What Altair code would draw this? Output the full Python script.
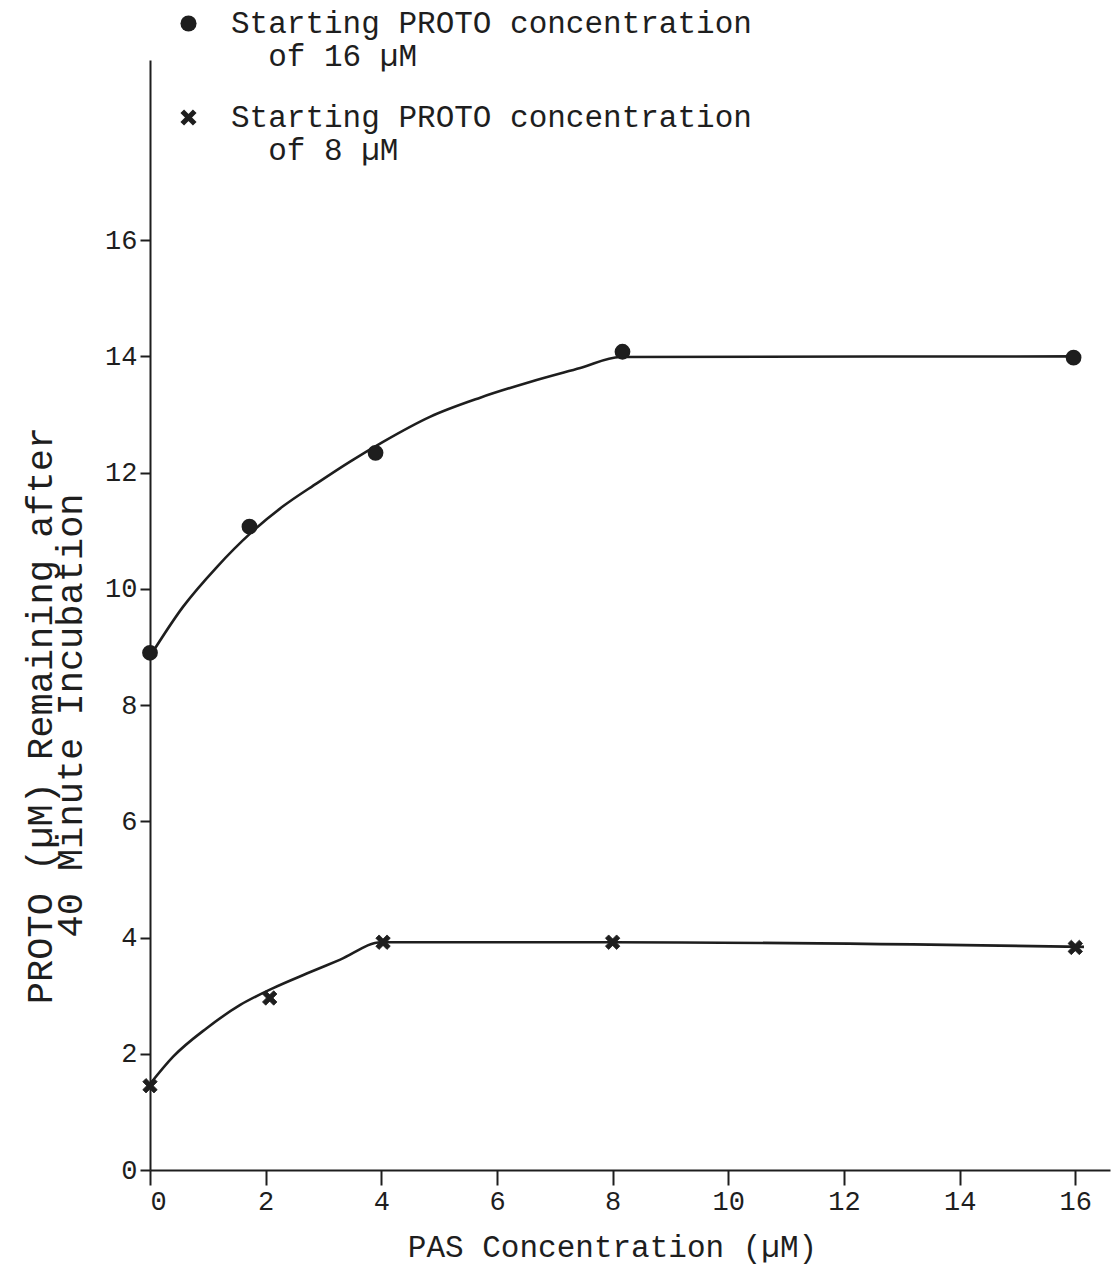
import altair as alt
import pandas as pd

# Measured points (PAS concentration µM, PROTO remaining µM)
circ_x = [0, 1.72, 3.9, 8.17, 15.97]
circ_y = [8.9, 11.07, 12.34, 14.08, 13.98]
cross_x = [0, 2.07, 4.03, 8.0, 16.0]
cross_y = [1.45, 2.96, 3.92, 3.92, 3.83]

# Hand-drawn curves
curve16_x = [0, 0.57, 1.16, 1.73, 2.30, 2.89, 3.46, 4.03, 4.84, 5.71, 6.57, 7.44, 8.13, 16.0]
curve16_y = [8.84, 9.69, 10.38, 10.95, 11.42, 11.82, 12.19, 12.53, 12.96, 13.29, 13.56, 13.80, 13.99, 14.0]
curve8_x = [0, 0.40, 0.98, 1.56, 2.13, 2.71, 3.29, 4.0, 8.0, 16.15]
curve8_y = [1.48, 1.95, 2.44, 2.84, 3.13, 3.38, 3.62, 3.92, 3.92, 3.84]

series_keys = ["16", "8"]
legend_line1 = "Starting PROTO concentration"
legend_line2 = {"16": "\u200b\u00a0\u00a0of 16 µM", "8": "\u200b\u00a0\u00a0of 8 µM"}

x_ticks = [0, 2, 4, 6, 8, 10, 12, 14, 16]
y_ticks = [0, 2, 4, 6, 8, 10, 12, 14, 16]
x_title = "PAS Concentration (µM)"
y_title = ["PROTO (µM) Remaining after", "40 Minute Incubation"]

FONT = "Liberation Mono"
INK = "#1e1e1e"

circ_df = pd.DataFrame({"x": circ_x, "y": circ_y, "series": ["16"] * len(circ_x)})
cross_df = pd.DataFrame({"x": cross_x, "y": cross_y, "series": ["8"] * len(cross_x)})
curves = pd.DataFrame({
    "x": curve16_x + curve8_x,
    "y": curve16_y + curve8_y,
    "series": ["16"] * len(curve16_x) + ["8"] * len(curve8_x),
})

xs = alt.Scale(domain=[0, 16.6], nice=False, zero=False)
ys = alt.Scale(domain=[0, 19.1], nice=False, zero=False)

xax = alt.Axis(values=x_ticks, format="d", title=x_title, grid=False, domainColor=INK, domainWidth=2,
               tickColor=INK, tickWidth=2, tickSize=15, labelPadding=3,
               labelFont=FONT, labelFontSize=27, labelColor=INK, labelBaseline="top",
               titleFont=FONT, titleFontSize=31, titleFontWeight="normal", titleColor=INK,
               titleX=462, titleY=86, titleBaseline="alphabetic", titleAnchor="middle")
yax = alt.Axis(values=y_ticks, format="d", title=y_title, grid=False, domainColor=INK, domainWidth=2,
               tickColor=INK, tickWidth=2, tickSize=10, labelPadding=3,
               labelFont=FONT, labelFontSize=27, labelColor=INK, labelBaseline="middle",
               titleFont=FONT, titleFontSize=37, titleFontWeight="normal", titleColor=INK,
               titleAngle=-90, titleX=-110, titleY=655, titleBaseline="middle",
               titleAlign="center", titleLineHeight=30)

label_expr = (
    "datum.label == '16' ? ['" + legend_line1 + "', '" + legend_line2["16"] + "']"
    " : ['" + legend_line1 + "', '" + legend_line2["8"] + "']"
)

# filled X-shaped glyph (two diagonal bands)
path_x = "M-1,-0.55L-0.55,-1L1,0.55L0.55,1ZM0.55,-1L1,-0.55L-0.55,1L-1,0.55Z"
shape_scale = alt.Scale(domain=series_keys, range=["circle", path_x])
legend = alt.Legend(orient="none", legendX=23, legendY=-52, title=None,
                    labelFont=FONT, labelFontSize=31, labelColor=INK,
                    labelLimit=1000, labelOffset=27, labelExpr=label_expr,
                    symbolSize=260, symbolStrokeWidth=1.5,
                    symbolFillColor=INK, symbolStrokeColor=INK,
                    rowPadding=29, padding=0)

lines = alt.Chart(curves).mark_line(color=INK, strokeWidth=2.6, interpolate="monotone").encode(
    x=alt.X("x:Q", scale=xs, axis=xax),
    y=alt.Y("y:Q", scale=ys, axis=yax),
    detail="series:N",
)

circles = alt.Chart(circ_df).mark_point(filled=True, color=INK, stroke=INK, strokeWidth=2,
                                        opacity=1, size=190).encode(
    x=alt.X("x:Q", scale=xs),
    y=alt.Y("y:Q", scale=ys),
    shape=alt.Shape("series:N", scale=shape_scale, legend=legend),
)
crosses = alt.Chart(cross_df).mark_point(filled=True, color=INK, stroke=INK, strokeWidth=0.8,
                                         opacity=1, size=210).encode(
    x=alt.X("x:Q", scale=xs),
    y=alt.Y("y:Q", scale=ys),
    shape=alt.Shape("series:N", scale=shape_scale, legend=legend),
)

chart = alt.layer(lines, circles, crosses).properties(
    width=960, height=1110,
    autosize=alt.AutoSizeParams(type="none"),
    padding={"left": 150, "top": 60, "right": 1, "bottom": 98},
    background="white",
).configure_view(stroke=None)

chart.save("out.html", embed_options={"renderer": "svg", "actions": False})
